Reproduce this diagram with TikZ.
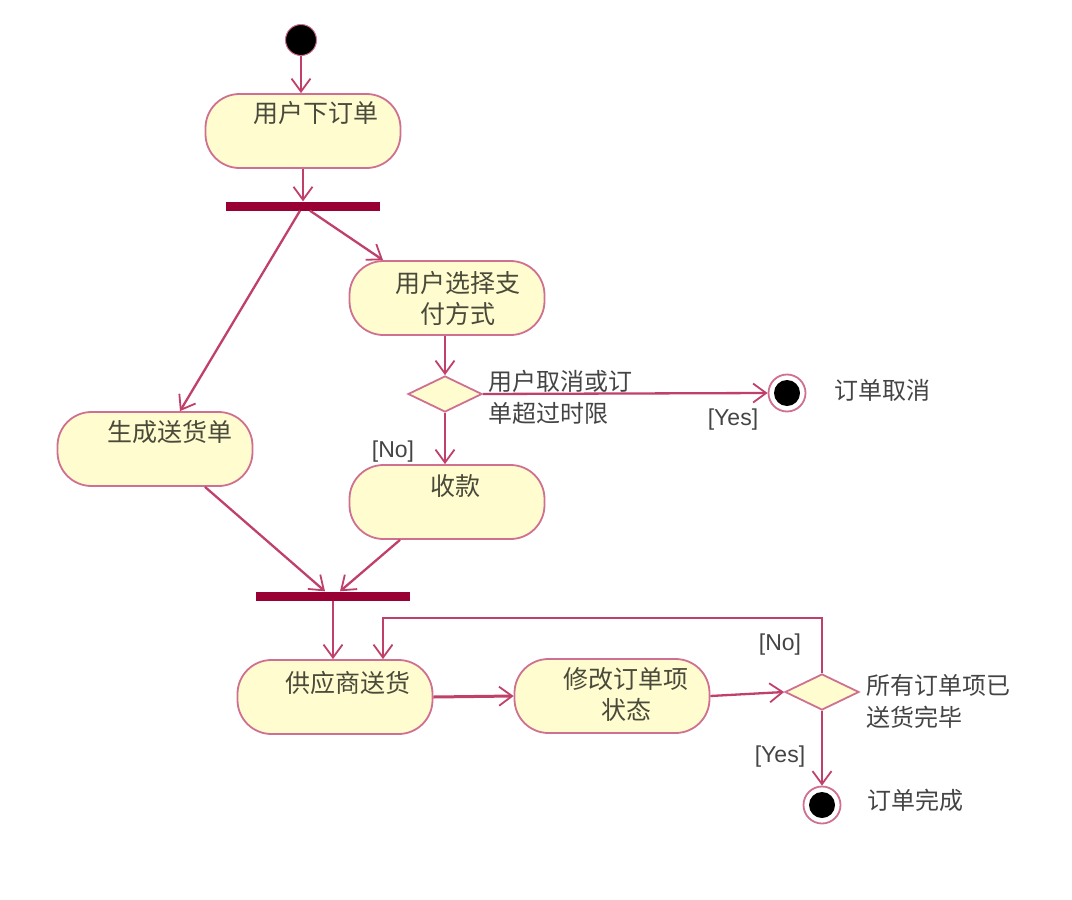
\documentclass[tikz,border=0pt]{standalone}
\usepackage{fontspec}
\setmainfont{Liberation Sans}
\newfontfamily\cjk{Noto Sans CJK SC}
\usetikzlibrary{arrows.meta,shapes.geometric,calc}
\definecolor{lnk}{HTML}{C0406A}
\definecolor{brd}{HTML}{D07090}
\definecolor{fil}{HTML}{FFFCD0}
\definecolor{barc}{HTML}{990033}
\definecolor{txt}{HTML}{4A4A3A}
\definecolor{lbl}{HTML}{444444}
\begin{document}
\begin{tikzpicture}[x=1pt,y=-1pt,
  action/.style={draw=brd,fill=fil,line width=1.8pt,rounded corners=34pt,minimum width=195pt,minimum height=74pt,inner sep=0pt},
  acttext/.style={font=\cjk\fontsize{25}{31}\selectfont,text=txt,align=center,inner sep=0pt},
  lbltext/.style={font=\cjk\fontsize{24}{32}\selectfont,text=lbl,align=left,inner sep=0pt},
  guard/.style={font=\fontsize{23}{26}\selectfont,text=lbl,inner sep=0pt},
  forkbar/.style={fill=barc,minimum width=154pt,minimum height=9pt,inner sep=0pt},
  startnode/.style={circle,fill=black,draw=brd,line width=1pt,minimum size=31pt,inner sep=0pt},
  finalnode/.style={circle,fill=white,draw=brd,line width=1.8pt,minimum size=37pt,inner sep=0pt,
     path picture={\fill[black] (path picture bounding box.center) circle (13pt);}},
  decision/.style={diamond,draw=brd,fill=fil,line width=1.8pt,minimum width=74pt,minimum height=36pt,inner sep=0pt},
  conn/.style={draw=lnk,line width=2.3pt,-{Straight Barb[length=13pt,width=19pt,line width=1.8pt]}}
]
\path[use as bounding box] (0,0) rectangle (1072,900);

% nodes
\node[startnode] (start) at (301,40) {};
\node[action] (a1) at (303,131) {};
\node[acttext] (t1) at (316,113) {用户下订单};
\node[forkbar] (bar1) at (303,206) {};
\node[action] (a2) at (447,298) {};
\node[acttext] (t2) at (458,298) {用户选择支\\付方式};
\node[decision] (d1) at (445,394) {};
\node[finalnode] (f1) at (787,393) {};
\node[action] (a3) at (155,449) {};
\node[acttext] (t3) at (170,432) {生成送货单};
\node[action] (a4) at (447,502) {};
\node[acttext] (t4) at (455,486) {收款};
\node[forkbar] (bar2) at (333,596) {};
\node[action] (a5) at (335,697) {};
\node[acttext] (t5) at (348,683) {供应商送货};
\node[action] (a6) at (612,696) {};
\node[acttext] (t6) at (626,694) {修改订单项\\状态};
\node[decision] (d2) at (822,692) {};
\node[finalnode] (f2) at (822,805) {};

% labels
\node[lbltext,anchor=west] (l1) at (488,397) {用户取消或订\\单超过时限};
\node[guard] (g1) at (733,420) {[Yes]};
\node[lbltext] (l2) at (882,390) {订单取消};
\node[guard] (g2) at (393,452) {[No]};
\node[guard] (g3) at (780,645) {[No]};
\node[guard] (g4) at (780,757) {[Yes]};
\node[lbltext,anchor=west] (l3) at (866,701) {所有订单项已\\送货完毕};
\node[lbltext] (l4) at (915,800) {订单完成};

% connectors
\draw[conn] (start.south) -- (start.south |- a1.north);
\draw[conn] (a1.south) -- (a1.south |- bar1.north);
\draw[conn] ($(bar1.south)+(-3,0)$) -- ($(a3.north)+(25,0)$);
\draw[conn] ($(bar1.south)+(7,0)$) -- ($(a2.north)+(-64,0)$);
\draw[conn] (a2.south -| d1.north) -- (d1.north);
\draw[conn] (d1.east) -- (f1.west);
\draw[conn] (d1.south) -- (d1.south |- a4.north);
\draw[conn] ($(a3.south)+(50,0)$) -- ($(bar2.north)+(-8,0)$);
\draw[conn] ($(a4.south)+(-47,0)$) -- ($(bar2.north)+(7,0)$);
\draw[conn] (bar2.south) -- (bar2.south |- a5.north);
\coordinate (c1) at (822,618);
\coordinate (c2) at (383,618);
\draw[conn,line width=1.8pt] (d2.north) -- (c1) -- (c2) -- (c2 |- a5.north);
\draw[conn,line width=3pt] (a5.east) -- (a6.west);
\draw[conn] (a6.east) -- (d2.west);
\draw[conn] (d2.south) -- (f2.north);
\end{tikzpicture}
\end{document}
